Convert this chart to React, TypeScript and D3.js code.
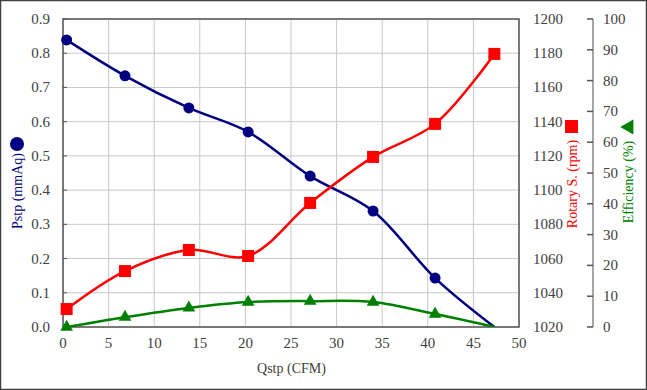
import React, { useEffect, useRef } from "react";
import * as d3 from "d3";

const flow = [0.4, 6.8, 13.8, 20.3, 27.1, 34.0, 40.8, 47.3];
const pressure = [0.839, 0.734, 0.64, 0.57, 0.441, 0.339, 0.143, 0.0];
const rotary = [1030.5, 1052.7, 1065, 1061.5, 1092.5, 1119.4, 1138.7, 1179.6];
const efficiency = [0, 3.2, 6.2, 8.1, 8.4, 8.1, 4.2, 0];

const xTicks = [0, 5, 10, 15, 20, 25, 30, 35, 40, 45, 50];
const pTicks = [0, 0.1, 0.2, 0.3, 0.4, 0.5, 0.6, 0.7, 0.8, 0.9];
const rTicks = [1020, 1040, 1060, 1080, 1100, 1120, 1140, 1160, 1180, 1200];
const eTicks = [0, 10, 20, 30, 40, 50, 60, 70, 80, 90, 100];

const W = 647;
const H = 390;
const FONT = "Liberation Serif, Times New Roman, serif";

const App = () => {
    const ref = useRef<SVGSVGElement>(null);

    useEffect(() => {
        document.body.style.margin = "0";
        const svg = d3.select(ref.current);
        svg.selectAll("*").remove();

        const left = 63, right = 519, top = 19, bottom = 327;
        const x = d3.scaleLinear().domain([0, 50]).range([left, right]);
        const yP = d3.scaleLinear().domain([0, 0.9]).range([bottom, top]);
        const yR = d3.scaleLinear().domain([1020, 1200]).range([bottom, top]);
        const yE = d3.scaleLinear().domain([0, 100]).range([bottom, top]);

        svg.append("rect")
            .attr("x", 0.5).attr("y", 0.5)
            .attr("width", W - 1).attr("height", H - 1)
            .attr("fill", "#fff").attr("stroke", "#404040").attr("stroke-width", 1.5);

        svg.append("defs").append("clipPath").attr("id", "plot")
            .append("rect").attr("x", left).attr("y", top)
            .attr("width", right - left).attr("height", bottom - top);

        // grid
        const grid = svg.append("g").attr("stroke", "#c8c8c8").attr("stroke-width", 1);
        xTicks.forEach((t) => {
            grid.append("line").attr("x1", x(t)).attr("x2", x(t)).attr("y1", top).attr("y2", bottom);
        });
        pTicks.forEach((t) => {
            grid.append("line").attr("x1", left).attr("x2", right).attr("y1", yP(t)).attr("y2", yP(t));
        });

        svg.append("rect")
            .attr("x", left).attr("y", top)
            .attr("width", right - left).attr("height", bottom - top)
            .attr("fill", "none").attr("stroke", "#555").attr("stroke-width", 1.5);

        const label = (g: any, tx: number, ty: number, text: string, anchor: string) =>
            g.append("text")
                .attr("x", tx).attr("y", ty)
                .attr("text-anchor", anchor)
                .attr("dominant-baseline", "central")
                .style("font-family", FONT).style("font-size", "15px")
                .attr("fill", "#404040").text(text);

        const axes = svg.append("g");
        pTicks.forEach((t) => {
            label(axes, 50, yP(t), d3.format(".1f")(t), "end");
            axes.append("line").attr("x1", left).attr("x2", left + 4)
                .attr("y1", yP(t)).attr("y2", yP(t)).attr("stroke", "#555");
        });
        xTicks.forEach((t) => label(axes, x(t), 343, String(t), "middle"));
        rTicks.forEach((t) => label(axes, 533, yR(t), String(t), "start"));

        const eAxisX = 593;
        axes.append("line").attr("x1", eAxisX).attr("x2", eAxisX)
            .attr("y1", top).attr("y2", bottom).attr("stroke", "#888").attr("stroke-width", 1.5);
        eTicks.forEach((t) => {
            axes.append("line").attr("x1", eAxisX - 6).attr("x2", eAxisX)
                .attr("y1", yE(t)).attr("y2", yE(t)).attr("stroke", "#555").attr("stroke-width", 1.5);
            label(axes, 603, yE(t), String(t), "start");
        });

        // axis titles
        axes.append("text")
            .attr("x", W / 2 - 32).attr("y", 368)
            .attr("text-anchor", "middle").attr("dominant-baseline", "central")
            .style("font-family", FONT).style("font-size", "14px").attr("fill", "#404040")
            .text("Qstp (CFM)");

        const vtitle = (cx: number, cy: number, text: string, color: string) =>
            axes.append("text")
                .attr("transform", `translate(${cx},${cy}) rotate(-90)`)
                .attr("text-anchor", "middle").attr("dominant-baseline", "central")
                .style("font-family", FONT).style("font-size", "14px").attr("fill", color)
                .text(text);

        vtitle(17, 191, "Pstp (mmAq)", "#000080");
        axes.append("circle").attr("cx", 17).attr("cy", 144).attr("r", 7).attr("fill", "#000080");
        vtitle(572, 184, "Rotary S. (rpm)", "#ff0000");
        axes.append("rect").attr("x", 565).attr("y", 120).attr("width", 13).attr("height", 13).attr("fill", "#ff0000");
        vtitle(628, 182, "Efficiency (%)", "#008000");
        axes.append("path")
            .attr("d", d3.symbol(d3.symbolTriangle, 100)())
            .attr("transform", "translate(629,127) rotate(-90)")
            .attr("fill", "#008000");

        const plot = svg.append("g").attr("clip-path", "url(#plot)");
        const curve = d3.curveCatmullRom.alpha(0.5);

        const series = [
            { vals: pressure, y: yP, color: "#000080", shape: "circle", skipLast: true },
            { vals: rotary, y: yR, color: "#ff0000", shape: "square", skipLast: false },
            { vals: efficiency, y: yE, color: "#008000", shape: "triangle", skipLast: true },
        ];

        series.forEach((s) => {
            const pts = flow.map((f, i) => [x(f), s.y(s.vals[i])] as [number, number]);
            plot.append("path")
                .attr("d", d3.line().curve(curve)(pts))
                .attr("fill", "none").attr("stroke", s.color).attr("stroke-width", 2.5);
        });

        const marks = svg.append("g");
        series.forEach((s) => {
            flow.forEach((f, i) => {
                if (s.skipLast && i === flow.length - 1) return;
                const cx = x(f), cy = s.y(s.vals[i]);
                if (s.shape === "circle") {
                    marks.append("circle").attr("cx", cx).attr("cy", cy).attr("r", 5.5).attr("fill", s.color);
                } else if (s.shape === "square") {
                    marks.append("rect").attr("x", cx - 6).attr("y", cy - 6)
                        .attr("width", 12).attr("height", 12).attr("fill", s.color);
                } else {
                    marks.append("path")
                        .attr("d", d3.symbol(d3.symbolTriangle, 70)())
                        .attr("transform", `translate(${cx},${cy})`)
                        .attr("fill", s.color);
                }
            });
        });
    }, []);

    return (
        <svg ref={ref} width={W} height={H}
            style={{ position: "absolute", left: 0, top: 0, display: "block" }} />
    );
};

export default App;
